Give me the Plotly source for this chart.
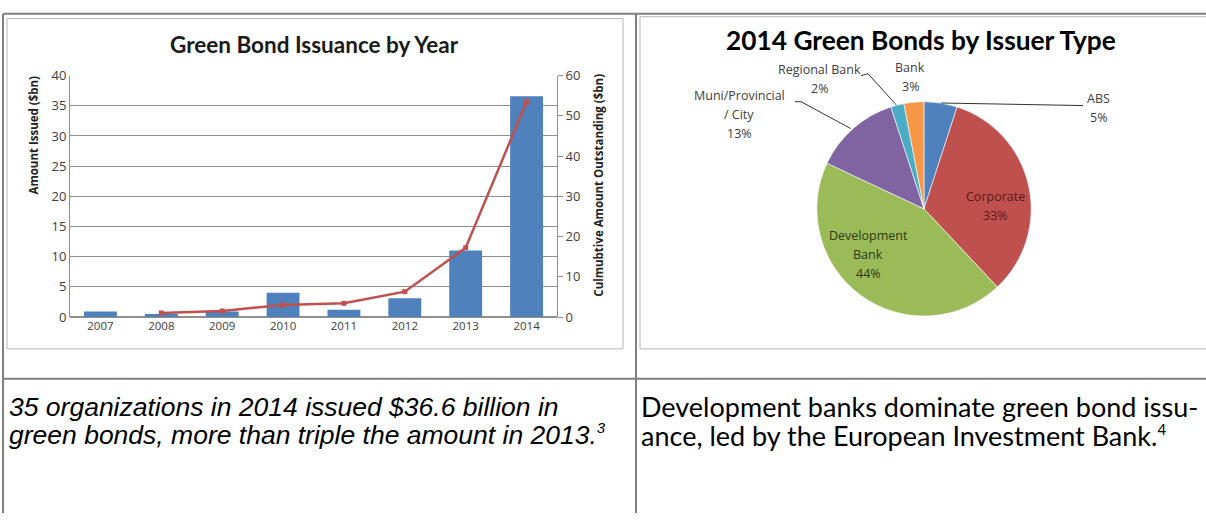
import math
import plotly.graph_objects as go

W, H = 1206, 522

# ---------------- data ----------------
years = ["2007", "2008", "2009", "2010", "2011", "2012", "2013", "2014"]
amount_issued = [0.9, 0.5, 0.9, 4.0, 1.2, 3.1, 11.0, 36.6]
cumulative = [None, 1.0, 1.5, 3.0, 3.4, 6.3, 17.2, 53.5]

issuer_types = ["ABS", "Corporate", "Development Bank", "Muni/Provincial / City", "Regional Bank", "Bank"]
issuer_display = [["ABS"], ["Corporate"], ["Development", "Bank"], ["Muni/Provincial", "/ City"],
                  ["Regional Bank"], ["Bank"]]
issuer_share = [5, 33, 44, 13, 2, 3]
issuer_colors = ["#4F81BD", "#C0504D", "#9BBB59", "#8064A2", "#4BACC6", "#F79646"]
issuer_textcolors = ["#404040", "#5a1a19", "#2c3a12", "#404040", "#404040", "#404040"]

SUP = '<sup><span style="font-size:15px">{}</span></sup>'
left_caption = ["35 organizations in 2014 issued $36.6 billion in",
                "green bonds, more than triple the amount in 2013." + SUP.format("3")]
right_caption = ["Development banks dominate green bond issu-",
                 "ance, led by the European Investment Bank." + SUP.format("4")]


def px(x):
    return x / W


def py(y):
    return 1 - y / H


fig = go.Figure()

# ---------------- left chart: bars + line ----------------
fig.add_trace(go.Bar(
    x=years, y=amount_issued, marker=dict(color="#4F81BD", line=dict(width=0)),
    width=0.54, yaxis="y", xaxis="x", showlegend=False, hoverinfo="x+y"))
fig.add_trace(go.Scatter(
    x=years, y=cumulative, mode="lines+markers", yaxis="y2", xaxis="x",
    line=dict(color="#C0504D", width=2.5), marker=dict(color="#C0504D", size=5, symbol="square"),
    showlegend=False, connectgaps=False))

# ---------------- right chart: pie ----------------
pie_cx, pie_cy, pie_r = 924, 207, 111
fig.add_trace(go.Pie(
    labels=issuer_types, values=issuer_share, textinfo="none",
    marker=dict(colors=issuer_colors, line=dict(color="white", width=0.6)),
    sort=False, direction="clockwise", rotation=0, showlegend=False,
    domain=dict(x=[px(pie_cx - pie_r), px(pie_cx + pie_r)],
                y=[py(pie_cy + pie_r), py(pie_cy - pie_r)]),
    hoverinfo="label+percent"))

shapes = []
annotations = []

# table lines
tbl = dict(type="line", xref="paper", yref="paper", line=dict(color="#808080", width=2))
shapes.append({**tbl, "x0": px(3), "x1": px(3), "y0": py(5), "y1": py(522)})
shapes.append({**tbl, "x0": px(3), "x1": px(1206), "y0": py(5), "y1": py(5)})
shapes.append({**tbl, "x0": px(636), "x1": px(636), "y0": py(5), "y1": py(522)})
shapes.append({**tbl, "x0": px(3), "x1": px(1206), "y0": py(383), "y1": py(383)})

# chart frames
frm = dict(type="rect", xref="paper", yref="paper", line=dict(color="#b5b5b5", width=1))
shapes.append({**frm, "x0": px(7), "x1": px(623), "y0": py(352), "y1": py(10)})
shapes.append({**frm, "x0": px(640), "x1": px(1210), "y0": py(352), "y1": py(8)})

# titles
annotations.append(dict(text="<b>Green Bond Issuance by Year</b>", x=px(314), y=py(37),
                        xref="paper", yref="paper", showarrow=False, xanchor="center", yanchor="middle",
                        font=dict(family="Lato", size=22.5, color="#1a1a1a")))
annotations.append(dict(text="<b>2014 Green Bonds by Issuer Type</b>", x=px(921), y=py(32),
                        xref="paper", yref="paper", showarrow=False, xanchor="center", yanchor="middle",
                        font=dict(family="Lato", size=26.3, color="#000000")))

# axis titles
annotations.append(dict(text="<b>Amount Issued ($bn)</b>", x=px(33), y=py(131), textangle=-90,
                        xref="paper", yref="paper", showarrow=False, xanchor="center", yanchor="middle",
                        font=dict(family="Open Sans", size=11.5, color="#222222")))
annotations.append(dict(text="<b>Culmubtive Amount Outstanding ($bn)</b>", x=px(599), y=py(183), textangle=-90,
                        xref="paper", yref="paper", showarrow=False, xanchor="center", yanchor="middle",
                        font=dict(family="Open Sans", size=11.5, color="#222222")))

# slice mid-points on the rim (computed from the data)
cum = 0
mid_pts = {}
total = sum(issuer_share)
for name, v in zip(issuer_types, issuer_share):
    theta = 2 * math.pi * (cum + v / 2) / total
    mid_pts[name] = (pie_cx + pie_r * math.sin(theta), pie_cy - pie_r * math.cos(theta))
    cum += v

# slice labels: (center x, first-line y) and leader lines
LINE_STEP = 19.5
label_cfg = {
    "ABS": dict(pos=(1098, 93), elbow=[(1083, 100)]),
    "Corporate": dict(pos=(995, 194), elbow=None),
    "Development Bank": dict(pos=(868, 235), elbow=None),
    "Muni/Provincial / City": dict(pos=(739, 90), elbow=[(795, 96), (801, 96)]),
    "Regional Bank": dict(pos=(819, 63), elbow=[(861, 69), (868, 67)]),
    "Bank": dict(pos=(910, 61), elbow=None),
}
for name, cfg in label_cfg.items():
    i = issuer_types.index(name)
    lines = issuer_display[i] + [f"{issuer_share[i]}%"]
    for k, t in enumerate(lines):
        annotations.append(dict(text=t, x=px(cfg["pos"][0]), y=py(cfg["pos"][1] + LINE_STEP * k),
                                xref="paper", yref="paper", showarrow=False,
                                xanchor="center", yanchor="middle",
                                font=dict(family="Open Sans", size=12.5, color=issuer_textcolors[i])))
    if cfg["elbow"]:
        pts = cfg["elbow"] + [mid_pts[name]]
        path = "M " + " L ".join(f"{px(a):.5f},{py(b):.5f}" for a, b in pts)
        shapes.append(dict(type="path", xref="paper", yref="paper", path=path,
                           line=dict(color="#333333", width=1)))

# captions
for k, line in enumerate(left_caption):
    annotations.append(dict(text=f"<i>{line}</i>", x=px(7), y=py(412 + 29 * k), xref="paper", yref="paper",
                            showarrow=False, xanchor="left", yanchor="middle",
                            font=dict(family="Liberation Sans", size=26.5, color="#000000")))
for k, line in enumerate(right_caption):
    annotations.append(dict(text=line, x=px(639), y=py(412 + 30 * k), xref="paper", yref="paper",
                            showarrow=False, xanchor="left", yanchor="middle",
                            font=dict(family="Lato", size=27, color="#000000")))

xtick_font = dict(family="Open Sans", size=11.5, color="#404040")
ytick_font = dict(family="Open Sans", size=13, color="#404040")
fig.update_layout(
    width=W, height=H, margin=dict(l=0, r=0, t=0, b=0),
    paper_bgcolor="white", plot_bgcolor="white",
    xaxis=dict(domain=[px(70), px(557)], anchor="y", type="category", showgrid=False,
               showline=False, ticks="", tickfont=xtick_font, fixedrange=True),
    yaxis=dict(domain=[py(319), py(69)], anchor="x", range=[0, 40], dtick=5,
               showgrid=True, gridcolor="#8f8f8f", gridwidth=1.2, zeroline=True, zerolinecolor="#8f8f8f",
               showline=True, linecolor="#8f8f8f", ticks="", tickfont=ytick_font),
    yaxis2=dict(overlaying="y", side="right", anchor="x", range=[0, 60], dtick=10,
                showgrid=False, zeroline=False, showline=True, linecolor="#8f8f8f",
                ticks="outside", ticklen=5, tickcolor="#8f8f8f", tickfont=ytick_font),
    shapes=shapes, annotations=annotations,
)

fig.write_html("out.html")
